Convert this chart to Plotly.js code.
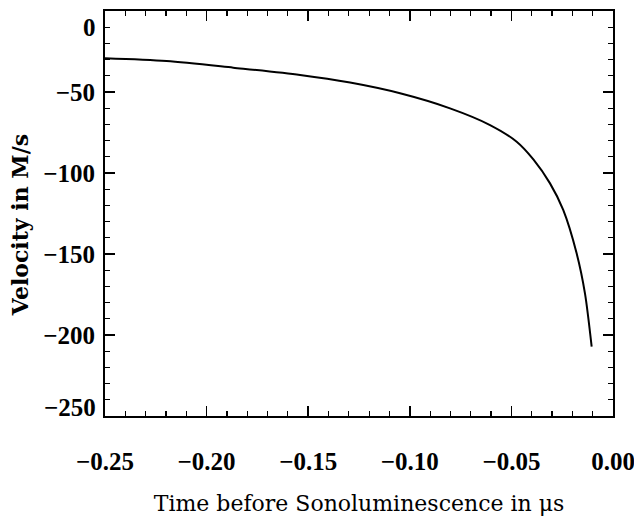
<!DOCTYPE html>
<html>
<head>
<meta charset="utf-8">
<script src="https://cdn.plot.ly/plotly-3.0.1.min.js"></script>
<style>html,body{margin:0;padding:0;background:#fff;}#chart{width:634px;height:521px;}</style>
</head>
<body>
<div id="chart"></div>
<script>
// Time before sonoluminescence (µs)
const timeUs = [-0.25, -0.2197, -0.1869, -0.154, -0.1294, -0.1048, -0.0802, -0.0605, -0.0474, -0.0392, -0.031, -0.0245, -0.0179, -0.0138, -0.0105];
// Velocity (M/s)
const velocity = [-29.2, -30.9, -35.0, -39.5, -44.2, -50.8, -60.1, -70.4, -80.7, -91.6, -106.4, -122.8, -149.6, -174.3, -207.2];

const xTickVals = [-0.25, -0.20, -0.15, -0.10, -0.05, 0.00];
const xTickText = ["\u22120.25", "\u22120.20", "\u22120.15", "\u22120.10", "\u22120.05", "0.00"];
const yTickVals = [0, -50, -100, -150, -200, -250];
const yTickText = ["0", "\u221250", "\u2212100", "\u2212150", "\u2212200", "\u2212250"];
// the end labels of the y axis are nudged inward in the original figure
const yEndLabelShift = {"0": -10, "\u2212250": 5.5};

const tickFont = {family: "Liberation Serif, Times New Roman, serif", size: 25, color: "#000", weight: "bold"};

const trace = {
  x: timeUs, y: velocity, type: "scatter", mode: "lines",
  line: {color: "#000", width: 2, shape: "spline", smoothing: 0.8},
  hoverinfo: "skip", showlegend: false
};

// tick labels: inner ones on the axis, end ones as annotations nudged inward
const yAxisText = yTickText.map(t => (t in yEndLabelShift) ? "" : t);
const annotations = [];
yTickVals.forEach((v, i) => {
  const t = yTickText[i];
  if (t in yEndLabelShift) {
    annotations.push({
      xref: "paper", yref: "y", x: 0, y: v + yEndLabelShift[t],
      xanchor: "right", yanchor: "middle", xshift: -7,
      text: t, showarrow: false, font: tickFont
    });
  }
});
annotations.push({
  xref: "paper", yref: "paper", x: -0.168, y: 0.5,
  xanchor: "center", yanchor: "middle", textangle: -90, yshift: -12,
  text: "Velocity in M/s", showarrow: false,
  font: {family: "DejaVu Serif, serif", size: 22, color: "#000", weight: "bold"}
});

const layout = {
  width: 634, height: 521,
  margin: {l: 105, r: 21, t: 11, b: 105},
  paper_bgcolor: "#fff", plot_bgcolor: "#fff",
  showlegend: false,
  annotations: annotations,
  xaxis: {
    range: [-0.25, 0.0], autorange: false,
    tickmode: "array", tickvals: xTickVals, ticktext: xTickText,
    ticks: "inside", ticklen: 10, tickwidth: 1.5, tickcolor: "#000",
    minor: {dtick: 0.01, ticks: "inside", ticklen: 5, tickwidth: 1.2, tickcolor: "#000", showgrid: false},
    showline: true, linecolor: "#000", linewidth: 2, mirror: "ticks",
    showgrid: false, zeroline: false,
    tickfont: tickFont, ticklabelstandoff: 22, ticklabeloverflow: "allow",
    title: {text: "Time before Sonoluminescence in \u03bcs", font: {family: "DejaVu Serif, serif", size: 22, color: "#000"}, standoff: 22}
  },
  yaxis: {
    range: [-250, 0], autorange: false,
    tickmode: "array", tickvals: yTickVals, ticktext: yAxisText,
    ticks: "inside", ticklen: 10, tickwidth: 1.5, tickcolor: "#000",
    minor: {dtick: 10, ticks: "inside", ticklen: 5, tickwidth: 1.2, tickcolor: "#000", showgrid: false},
    showline: true, linecolor: "#000", linewidth: 2, mirror: "ticks",
    showgrid: false, zeroline: false,
    tickfont: tickFont, ticklabelstandoff: 3, ticklabeloverflow: "allow"
  }
};

Plotly.newPlot("chart", [trace], layout, {displayModeBar: false, staticPlot: true});
</script>
</body>
</html>
